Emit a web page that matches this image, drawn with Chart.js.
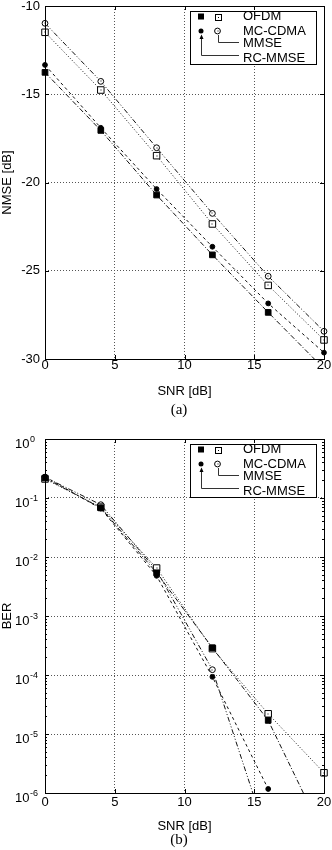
<!DOCTYPE html>
<html>
<head>
<meta charset="utf-8">
<script src="https://cdn.jsdelivr.net/npm/chart.js@4.4.1/dist/chart.umd.min.js"></script>
<style>
html, body { margin: 0; padding: 0; background: #fff; }
#wrap { position: relative; width: 332px; height: 850px; overflow: hidden; }
canvas { position: absolute; left: 0; }
#nmse { top: 0; }
#ber { top: 420px; }
.cap { position: absolute; left: 0; width: 358px; text-align: center; font: 15px "Liberation Serif", "Times New Roman", serif; line-height: 18px; color: #000; }
</style>
</head>
<body>
<div id="wrap">
  <canvas id="nmse" width="332" height="420"></canvas>
  <canvas id="ber" width="332" height="430"></canvas>
  <div class="cap" style="top:400px">(a)</div>
  <div class="cap" style="top:830px">(b)</div>
</div>
<script>
const snr = [0, 4, 8, 12, 16, 20];

// (a) NMSE [dB]
const nmseTicks = [-30, -25, -20, -15, -10];
const nmseOfdmRc = [-13.76, -17.05, -20.71, -24.1, -27.36, -30.55];
const nmseOfdmMmse = [-11.49, -14.76, -18.48, -22.35, -25.83, -28.92];
const nmseMcRc = [-13.34, -16.9, -20.37, -23.64, -26.85, -29.64];
const nmseMcMmse = [-10.98, -14.27, -18.03, -21.75, -25.31, -28.43];

// (b) BER
const berExps = [0, -1, -2, -3, -4, -5, -6];
const berOfdmRc = [0.218, 0.068, 5.4e-3, 2.9e-4, 1.7e-5, 1.9e-7];
const berOfdmMmse = [0.21, 0.07, 6.5e-3, 2.8e-4, 2.2e-5, 2.2e-6];
const berMcRc = [0.23, 0.066, 4.8e-3, 9.3e-5, 1.17e-6, null];
const berMcMmse = [0.225, 0.077, 5.9e-3, 1.23e-4, 1.6e-7, null];

const legendRows = ["OFDM", "MC-CDMA", "MMSE", "RC-MMSE"];

const FONT = '"Liberation Sans", Arial, Helvetica, sans-serif';
Chart.defaults.font.family = FONT;
Chart.defaults.color = "#000";

function series(label, values, style, filled, dash) {
    return {
        label: label,
        data: snr.map((x, i) => ({ x: x, y: values[i] })),
        borderColor: "#111",
        borderWidth: 1,
        borderDash: dash,
        pointStyle: style,
        pointRadius: style === "rect" ? (filled ? 4 : 4.6) : (filled ? 2.4 : 2.9),
        pointBackgroundColor: filled ? "#000" : "#fff",
        pointBorderColor: "#000",
        pointBorderWidth: 1,
        clip: { left: 8, right: 8, top: 8, bottom: 0 },
    };
}

// frame + inward tick marks
const frame = {
    id: "frame",
    afterDatasetsDraw(chart, args, opts) {
        const { ctx, chartArea: a, scales } = chart;
        const L = Math.round(a.left), R = Math.round(a.right), T = Math.round(a.top), B = Math.round(a.bottom);
        ctx.save();
        ctx.strokeStyle = "#000";
        ctx.lineWidth = 1;
        ctx.setLineDash([]);
        ctx.strokeRect(L + 0.5, T + 0.5, R - L, B - T);
        ctx.beginPath();
        scales.x.ticks.forEach(t => {
            const px = Math.round(scales.x.getPixelForValue(t.value)) + 0.5;
            ctx.moveTo(px, B); ctx.lineTo(px, B - 4);
            ctx.moveTo(px, T); ctx.lineTo(px, T + 4);
        });
        scales.y.ticks.forEach(t => {
            const py = Math.round(scales.y.getPixelForValue(t.value)) + 0.5;
            ctx.moveTo(L, py); ctx.lineTo(L + 4, py);
            ctx.moveTo(R, py); ctx.lineTo(R - 4, py);
        });
        if (opts.minor) {
            berExps.forEach(e => {
                for (let m = 2; m <= 9; m++) {
                    const v = m * Math.pow(10, e);
                    if (v >= 1) continue;
                    const py = Math.round(scales.y.getPixelForValue(v)) + 0.5;
                    ctx.moveTo(L, py); ctx.lineTo(L + 2, py);
                    ctx.moveTo(R, py); ctx.lineTo(R - 2, py);
                }
            });
        }
        ctx.stroke();

        // dots in the open markers
        ctx.fillStyle = "#000";
        chart.data.datasets.forEach((ds, i) => {
            if (ds.pointBackgroundColor !== "#fff") return;
            chart.getDatasetMeta(i).data.forEach(p => {
                if (p.skip || p.y > a.bottom || p.y < a.top - 8) return;
                ctx.fillRect(Math.round(p.x) - 0.5, Math.round(p.y) - 0.5, 1, 1);
            });
        });
        ctx.restore();
    },
};

// key box in the upper right
const keyBox = {
    id: "keyBox",
    afterDatasetsDraw(chart) {
        const { ctx, chartArea: a } = chart;
        const x0 = Math.round(a.right) - 134, y0 = Math.round(a.top) + 5;
        const rows = [y0 + 5.5, y0 + 20, y0 + 32.5, y0 + 47];
        const c1 = x0 + 11, c2 = x0 + 27.5, ex = x0 + 49;
        ctx.save();
        ctx.fillStyle = "#fff";
        ctx.fillRect(x0, y0, 126, 53);
        ctx.strokeStyle = "#000";
        ctx.lineWidth = 1;
        ctx.setLineDash([]);
        ctx.strokeRect(x0 + 0.5, y0 + 0.5, 126, 53);

        // markers
        ctx.fillStyle = "#000";
        ctx.fillRect(c1 - 3, rows[0] - 3, 6, 6);
        ctx.fillStyle = "#fff";
        ctx.fillRect(c2 - 3, rows[0] - 3, 6, 6);
        ctx.strokeRect(Math.round(c2 - 3) + 0.5, Math.round(rows[0] - 3) + 0.5, 6, 6);
        ctx.fillStyle = "#000";
        ctx.fillRect(Math.round(c2), Math.round(rows[0]), 1, 1);
        ctx.beginPath();
        ctx.arc(c1, rows[1], 2.5, 0, Math.PI * 2);
        ctx.fill();
        ctx.beginPath();
        ctx.arc(c2, rows[1], 2.9, 0, Math.PI * 2);
        ctx.stroke();
        ctx.fillRect(Math.round(c2) - 0.5, Math.round(rows[1]) - 0.5, 1, 1);

        // connectors
        ctx.strokeStyle = "#333";
        ctx.beginPath();
        ctx.moveTo(Math.round(c2) + 0.5, rows[1] + 4);
        ctx.lineTo(Math.round(c2) + 0.5, Math.round(rows[2]) - 1.5);
        ctx.lineTo(ex, Math.round(rows[2]) - 1.5);
        ctx.moveTo(Math.round(c1) + 0.5, rows[1] + 7);
        ctx.lineTo(Math.round(c1) + 0.5, Math.round(rows[3]) - 2.5);
        ctx.lineTo(ex, Math.round(rows[3]) - 2.5);
        ctx.stroke();
        ctx.fillStyle = "#000";
        ctx.beginPath();
        ctx.moveTo(Math.round(c1) + 0.5, rows[1] + 3.5);
        ctx.lineTo(Math.round(c1) - 1.5, rows[1] + 8);
        ctx.lineTo(Math.round(c1) + 2.5, rows[1] + 8);
        ctx.closePath();
        ctx.fill();

        // texts
        ctx.font = "13px " + FONT;
        ctx.textAlign = "left";
        ctx.textBaseline = "middle";
        legendRows.forEach((t, i) => ctx.fillText(t, x0 + 53, rows[i]));
        ctx.restore();
    },
};

// 10^n labels on the BER axis
const powLabels = {
    id: "powLabels",
    afterDraw(chart) {
        const { ctx, scales } = chart;
        ctx.save();
        ctx.fillStyle = "#000";
        ctx.textAlign = "left";
        ctx.textBaseline = "alphabetic";
        berExps.forEach(e => {
            const py = scales.y.getPixelForValue(Math.pow(10, e));
            ctx.font = "13px " + FONT;
            const w = ctx.measureText("10").width;
            ctx.fillText("10", 15, py + 8.5);
            ctx.font = "9px " + FONT;
            ctx.fillText(String(e), 15 + w + 0.5, py + 2.5);
        });
        ctx.restore();
    },
};

function xScale(height, pad) {
    return {
        type: "linear",
        min: 0,
        max: 20,
        ticks: { stepSize: 5, padding: pad, maxRotation: 0, font: { size: 13, lineHeight: 1 } },
        grid: { color: "#555", lineWidth: 1, drawTicks: false, borderDash: [1, 2] },
        border: { display: false, dash: [1, 2] },
        title: { display: true, text: "SNR [dB]", font: { size: 13, lineHeight: 1.2 }, padding: 0 },
        afterFit: s => { s.height = height; s.paddingLeft = 0; s.paddingRight = 0; },
    };
}

function yTitle(text) {
    return { display: true, text: text, font: { size: 13, lineHeight: 1 }, padding: { top: 0.5, bottom: 0 } };
}

new Chart(document.getElementById("nmse"), {
    type: "line",
    data: {
        datasets: [
            series("OFDM RC-MMSE", nmseOfdmRc, "rect", true, [5, 2, 1, 2]),
            series("OFDM MMSE", nmseOfdmMmse, "rect", false, [1, 2]),
            series("MC-CDMA RC-MMSE", nmseMcRc, "circle", true, [3, 3]),
            series("MC-CDMA MMSE", nmseMcMmse, "circle", false, [5, 2, 1, 2, 1, 2]),
        ],
    },
    options: {
        responsive: false,
        animation: false,
        layout: { padding: { left: 0, right: 8, top: 6, bottom: 21 } },
        plugins: { legend: { display: false }, tooltip: { enabled: false }, frame: { minor: false } },
        scales: {
            x: xScale(40, -0.5),
            y: {
                min: -30,
                max: -10,
                afterBuildTicks: s => { s.ticks = nmseTicks.map(v => ({ value: v })); },
                ticks: { padding: 5, font: { size: 13 } },
                grid: { color: "#555", lineWidth: 1, drawTicks: false, borderDash: [1, 2] },
                border: { display: false, dash: [1, 2] },
                title: yTitle("NMSE [dB]"),
                afterFit: s => { s.width = 45; s.paddingTop = 0; s.paddingBottom = 0; },
            },
        },
    },
    plugins: [frame, keyBox],
});

new Chart(document.getElementById("ber"), {
    type: "line",
    data: {
        datasets: [
            series("OFDM RC-MMSE", berOfdmRc, "rect", true, [5, 2, 1, 2]),
            series("OFDM MMSE", berOfdmMmse, "rect", false, [1, 2]),
            series("MC-CDMA RC-MMSE", berMcRc, "circle", true, [3, 3]),
            series("MC-CDMA MMSE", berMcMmse, "circle", false, [5, 2, 1, 2, 1, 2]),
        ],
    },
    options: {
        responsive: false,
        animation: false,
        layout: { padding: { left: 0, right: 8, top: 19, bottom: 15.5 } },
        plugins: { legend: { display: false }, tooltip: { enabled: false }, frame: { minor: true } },
        scales: {
            x: xScale(41.5, 2.5),
            y: {
                type: "logarithmic",
                min: 1e-6,
                max: 1,
                afterBuildTicks: s => { s.ticks = berExps.map(e => ({ value: Math.pow(10, e), major: true })); },
                ticks: { display: false },
                grid: { color: "#555", lineWidth: 1, drawTicks: false, borderDash: [1, 2] },
                border: { display: false, dash: [1, 2] },
                title: yTitle("BER"),
                afterFit: s => { s.width = 45; s.paddingTop = 0; s.paddingBottom = 0; },
            },
        },
    },
    plugins: [frame, keyBox, powLabels],
});
</script>
</body>
</html>
